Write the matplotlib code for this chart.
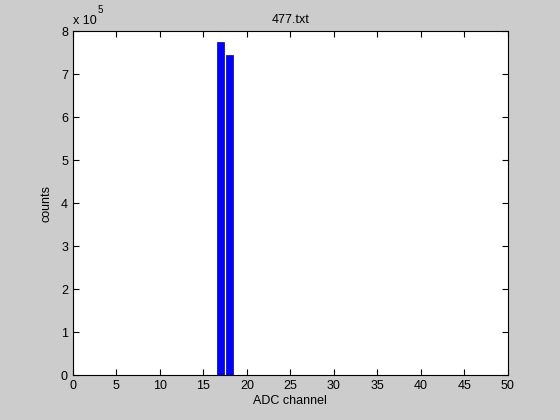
import matplotlib
matplotlib.use("Agg")
import matplotlib.pyplot as plt

channels = [17, 18]
counts = [7.75e5, 7.45e5]
x_ticks = [0, 5, 10, 15, 20, 25, 30, 35, 40, 45, 50]
y_ticks = [0, 1, 2, 3, 4, 5, 6, 7, 8]

plt.rcParams['font.family'] = ['Liberation Sans', 'DejaVu Sans']

fig = plt.figure(figsize=(5.6, 4.2), dpi=100, facecolor='#cccccc')
ax = fig.add_axes([0.13, 0.107, 0.777, 0.819])
ax.bar(channels, [c / 1e5 for c in counts], width=0.85, color='#0000ff', edgecolor='#00008b', linewidth=0.5)
ax.set_xlim(0, 50)
ax.set_ylim(0, 8)
ax.set_xticks(x_ticks)
ax.set_yticks(y_ticks)
ax.tick_params(direction='in', top=True, right=True, labelsize=9, length=4, width=0.8)
for s in ax.spines.values():
    s.set_linewidth(0.8)
ax.set_title('477.txt', fontsize=9)
ax.set_xlabel('ADC channel', fontsize=9, labelpad=2)
ax.set_ylabel('counts', fontsize=9, labelpad=6)
fig.text(0.13, 0.935, 'x 10', fontsize=9, ha='left', va='bottom')
fig.text(0.174, 0.965, '5', fontsize=7, ha='left', va='bottom')

fig.savefig('out.png', dpi=100, facecolor=fig.get_facecolor())
